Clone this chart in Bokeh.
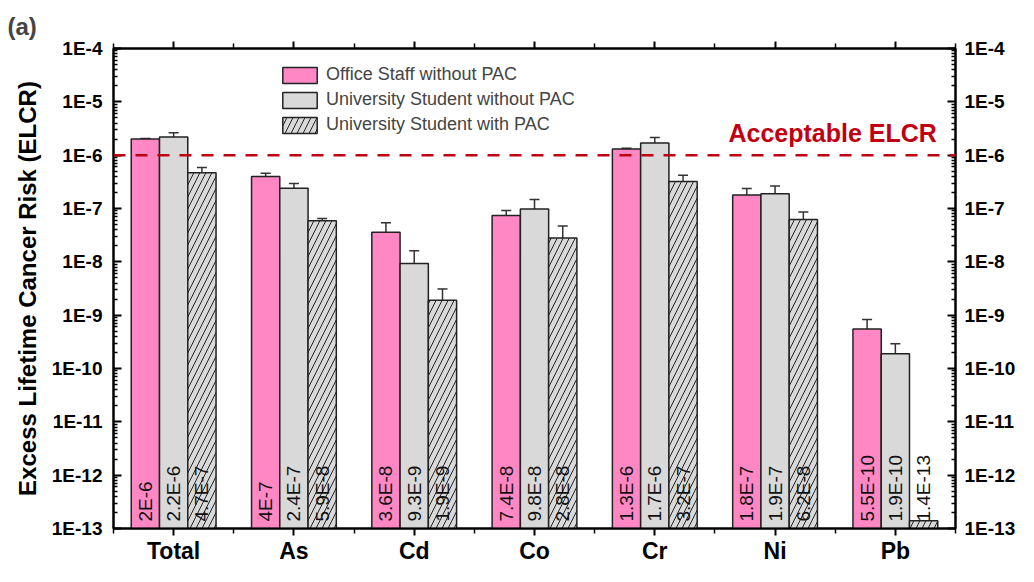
import math
from bokeh.plotting import figure
from bokeh.models import (ColumnDataSource, FixedTicker, LinearAxis, LogAxis, Range1d,
                          Span, Label, Legend, LegendItem, Whisker, TeeHead,
                          CustomJSTickFormatter)
from bokeh.transform import dodge
from bokeh.core.properties import value
from bokeh.embed import file_html
from bokeh.resources import INLINE

# ---------------- data ----------------
categories = ["Total", "As", "Cd", "Co", "Cr", "Ni", "Pb"]
series_names = ["Office Staff without PAC",
                "University Student without PAC",
                "University Student with PAC"]

office = [2.0e-6, 4.0e-7, 3.6e-8, 7.4e-8, 1.3e-6, 1.8e-7, 5.5e-10]
office_err = [0.05e-6, 0.6e-7, 1.8e-8, 1.8e-8, 0.05e-6, 0.56e-7, 2.8e-10]
office_labels = ["2E-6", "4E-7", "3.6E-8", "7.4E-8", "1.3E-6", "1.8E-7", "5.5E-10"]

student = [2.2e-6, 2.4e-7, 9.3e-9, 9.8e-8, 1.7e-6, 1.9e-7, 1.9e-10]
student_err = [0.42e-6, 0.55e-7, 6.8e-9, 5.0e-8, 0.45e-6, 0.75e-7, 1.0e-10]
student_labels = ["2.2E-6", "2.4E-7", "9.3E-9", "9.8E-8", "1.7E-6", "1.9E-7", "1.9E-10"]

pac = [4.7e-7, 5.9e-8, 1.9e-9, 2.8e-8, 3.2e-7, 6.2e-8, 1.4e-13]
pac_err = [1.2e-7, 0.6e-8, 1.2e-9, 1.9e-8, 1.0e-7, 2.4e-8, 0.0]
pac_labels = ["4.7E-7", "5.9E-8", "1.9E-9", "2.8E-8", "3.2E-7", "6.2E-8", "1.4E-13"]

acceptable_elcr = 1e-6
y_min, y_max = 1e-13, 1e-4
decades = list(range(-13, -3))

# ---------------- style ----------------
FONT = "Liberation Sans"
PINK = "#FF88C4"
GREY = "#D9D9D9"
RED = "#C00010"
BAR_W = 0.235

p = figure(width=1018, height=566, output_backend="svg", toolbar_location=None,
           y_axis_type="log", x_range=Range1d(0.5, len(categories) + 0.5),
           y_range=Range1d(y_min, y_max),
           min_border_left=113, min_border_right=50, min_border_top=48,
           min_border_bottom=30)
p.xgrid.visible = False
p.ygrid.visible = False
p.outline_line_color = "black"
p.outline_line_width = 2

p.title.text = "(a)"
p.title.align = "left"
p.title.offset = -106
p.title.text_font = FONT
p.title.text_font_size = "24px"
p.title.text_font_style = "bold"
p.title.standoff = 4

xs = list(range(1, len(categories) + 1))
series = [
    (office, office_err, office_labels, -BAR_W, PINK, None),
    (student, student_err, student_labels, 0.0, GREY, None),
    (pac, pac_err, pac_labels, BAR_W, GREY, "/"),
]

legend_items = []
for (vals, errs, labels, off, color, hatch), name in zip(series, series_names):
    src = ColumnDataSource(dict(x=xs, top=vals, label=labels,
                                bottom=[y_min] * len(vals)))
    kw = {}
    if hatch:
        kw = dict(hatch_pattern=hatch, hatch_color="#222222", hatch_weight=1.0,
                  hatch_scale=12)
    r = p.vbar(x=dodge("x", off), top="top", bottom="bottom", width=BAR_W,
               source=src, fill_color=color, line_color="#222222", line_width=1.5, **kw)
    legend_items.append(LegendItem(label=name, renderers=[r]))

    wx = [x for x, e in zip(xs, errs) if e > 0]
    wu = [v + e for v, e in zip(vals, errs) if e > 0]
    wl = [v - e for v, e in zip(vals, errs) if e > 0]
    wsrc = ColumnDataSource(dict(x=wx, upper=wu, lower=wl))
    w = Whisker(base=dodge("x", off), upper="upper", lower="lower", source=wsrc,
                dimension="height", line_color="#333333", line_width=1.5,
                upper_head=TeeHead(size=10, line_color="#333333", line_width=1.5),
                lower_head=TeeHead(size=10, line_color="#333333", line_width=1.5))
    p.add_layout(w)

    p.text(x=dodge("x", off), y=1.35e-13, text="label", source=src,
           angle=math.pi / 2, text_align="left", text_baseline="middle",
           text_font=value(FONT), text_font_size="19px", text_color="#111111")

# acceptable line
p.add_layout(Span(location=acceptable_elcr, dimension="width", line_color=RED,
                  line_width=2.5, line_dash="12 10"))
p.add_layout(Label(x=615, y=382, x_units="screen", y_units="screen",
                   text="Acceptable ELCR", text_font=FONT, text_font_size="25px",
                   text_font_style="bold", text_color=RED))

# ---------------- axes ----------------
x_ticker = FixedTicker(ticks=xs, minor_ticks=[x + 0.5 for x in [0] + xs])
y_ticker = FixedTicker(ticks=[10.0 ** d for d in decades],
                       minor_ticks=[m * 10.0 ** d for d in decades[:-1] for m in range(2, 10)])
y_fmt = CustomJSTickFormatter(code="return '1E' + Math.round(Math.log10(tick));")

def style_axis(ax):
    ax.axis_line_width = 2
    ax.axis_line_color = "black"
    ax.major_tick_line_width = 2
    ax.minor_tick_line_width = 1.5
    ax.major_label_text_font = FONT
    ax.major_label_text_font_style = "bold"
    ax.major_label_text_color = "black"

xa = p.xaxis[0]
xa.ticker = x_ticker
xa.major_label_overrides = {x: c for x, c in zip(xs, categories)}
style_axis(xa)
xa.major_tick_out = 7
xa.major_tick_in = 0
xa.minor_tick_out = 5
xa.minor_tick_in = 0
xa.major_label_text_font_size = "23px"
xa.major_label_standoff = 2

top = LinearAxis(ticker=x_ticker,
                 formatter=CustomJSTickFormatter(code="return '';"))
style_axis(top)
top.major_tick_out = 7
top.major_tick_in = 0
top.minor_tick_out = 5
top.minor_tick_in = 0
top.major_label_standoff = 0
p.add_layout(top, "above")

ya = p.yaxis[0]
ya.ticker = y_ticker
ya.formatter = y_fmt
style_axis(ya)
ya.major_tick_in = 8
ya.major_tick_out = 0
ya.minor_tick_in = 4
ya.minor_tick_out = 0
ya.major_label_text_font_size = "19px"
ya.major_label_standoff = 11
ya.axis_label = "Excess Lifetime Cancer Risk (ELCR)"
ya.axis_label_text_font = FONT
ya.axis_label_text_font_size = "24px"
ya.axis_label_text_font_style = "bold"
ya.axis_label_text_color = "black"
ya.axis_label_standoff = 8

ra = LogAxis(ticker=y_ticker, formatter=y_fmt)
style_axis(ra)
ra.major_tick_in = 8
ra.major_tick_out = 0
ra.minor_tick_in = 4
ra.minor_tick_out = 0
ra.major_label_text_font_size = "19px"
ra.major_label_standoff = 9
p.add_layout(ra, "right")

legend = Legend(items=legend_items, location=(165, 393), padding=0, margin=0,
                spacing=4, glyph_width=43, glyph_height=20, label_standoff=5,
                label_text_font=FONT, label_text_font_size="18px",
                label_height=20, border_line_alpha=0, background_fill_alpha=0)
p.add_layout(legend)

open("out.html", "w").write(file_html(p, INLINE))
